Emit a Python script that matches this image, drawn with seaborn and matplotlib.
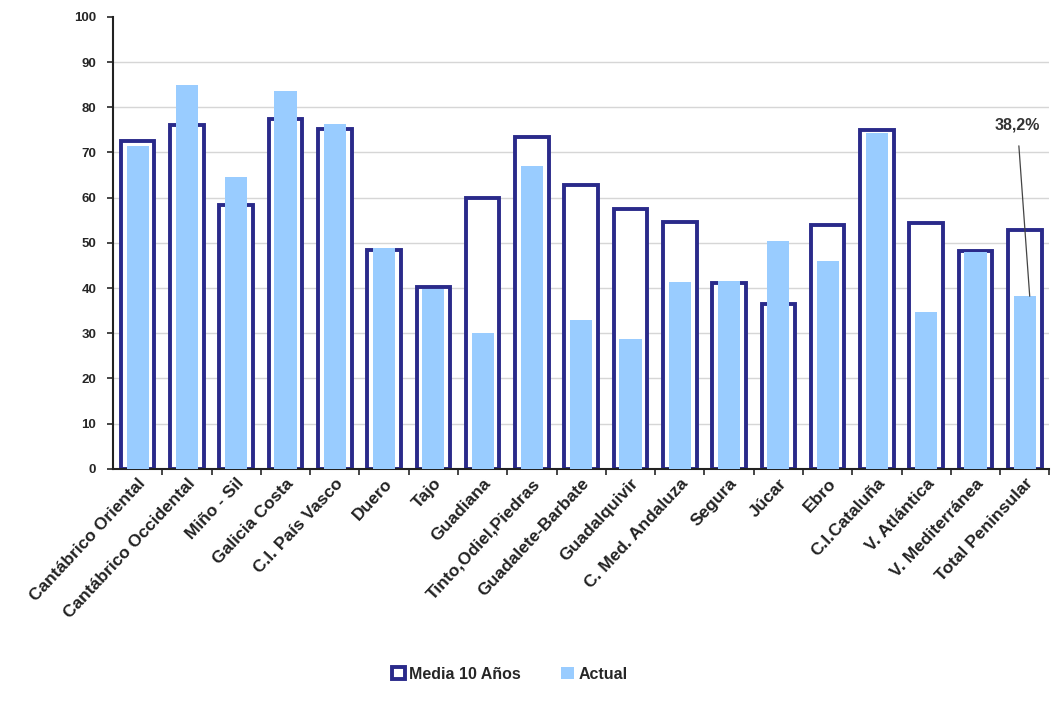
import numpy as np
import pandas as pd
import seaborn as sns
import matplotlib.pyplot as plt
from matplotlib.patches import Patch

cuencas = ['Cantábrico Oriental', 'Cantábrico Occidental', 'Miño - Sil', 'Galicia Costa',
           'C.I. País Vasco', 'Duero', 'Tajo', 'Guadiana', 'Tinto,Odiel,Piedras',
           'Guadalete-Barbate', 'Guadalquivir', 'C. Med. Andaluza', 'Segura', 'Júcar',
           'Ebro', 'C.I.Cataluña', 'V. Atlántica', 'V. Mediterránea', 'Total Peninsular']
media_10 = [72.5, 76.0, 58.3, 77.3, 75.3, 48.5, 40.3, 60.0, 73.5, 62.8,
            57.5, 54.7, 41.2, 36.5, 54.0, 75.0, 54.5, 48.3, 52.8]
actual = [71.5, 85.0, 64.5, 83.5, 76.3, 48.8, 39.8, 30.0, 67.0, 33.0,
          28.8, 41.3, 41.5, 50.4, 45.9, 74.3, 34.7, 48.0, 38.2]

navy = '#2A2A8A'
light = '#99CCFF'

df = pd.DataFrame({'cuenca': cuencas, 'media': media_10, 'actual': actual})

sns.set_style('white')
plt.rcParams['font.family'] = ['Liberation Sans', 'DejaVu Sans']
plt.rcParams['font.weight'] = 'bold'

fig = plt.figure(figsize=(10.51, 7.04), dpi=100)
ax = fig.add_axes([0.1075, 0.334, 0.891, 0.642])

sns.barplot(data=df, x='cuenca', y='media', color='white', edgecolor=navy,
            linewidth=2.8, width=0.68, saturation=1, ax=ax, zorder=2)
sns.barplot(data=df, x='cuenca', y='actual', color=light, linewidth=0,
            width=0.45, saturation=1, ax=ax, zorder=3)

ax.set_ylim(0, 100)
ax.set_xlim(-0.5, len(cuencas) - 0.5)
ax.set_yticks(np.arange(0, 101, 10))
ax.set_xlabel('')
ax.set_ylabel('')
for v in range(10, 100, 10):
    ax.axhline(v, color='#d6d6d6', linewidth=1, zorder=0)

for s in ['top', 'right']:
    ax.spines[s].set_visible(False)
ax.spines['left'].set_color('#222222')
ax.spines['bottom'].set_color('#222222')
ax.spines['left'].set_linewidth(1.5)
ax.spines['bottom'].set_linewidth(1.5)

ax.tick_params(axis='y', direction='out', length=4, width=1.2, labelsize=9.5, pad=8, left=True)
ax.set_xticks(np.arange(len(cuencas)))
ax.set_xticklabels(cuencas, rotation=47, ha='right', va='top', rotation_mode='anchor',
                   fontsize=12.5, fontweight='bold', color='#222222')
ax.tick_params(axis='x', length=0, pad=5)
ax.set_xticks(np.arange(len(cuencas)) + 0.5, minor=True)
ax.tick_params(axis='x', which='minor', direction='out', length=4, width=1.2, bottom=True)
for lab in ax.get_yticklabels():
    lab.set_fontweight('bold')

ax.annotate('38,2%', xy=(18.1, actual[-1]), xytext=(17.85, 76),
            ha='center', va='center', fontsize=11.5, fontweight='bold', color='#333333',
            arrowprops=dict(arrowstyle='-', color='#444444', linewidth=0.9, shrinkA=7, shrinkB=0),
            zorder=5)

handles = [Patch(facecolor='white', edgecolor=navy, linewidth=2.8, label='Media 10 Años'),
           Patch(facecolor=light, edgecolor='none', label='Actual')]
fig.legend(handles=handles, loc='center', bbox_to_anchor=(0.485, 0.042), ncol=2, frameon=False,
           prop={'weight': 'bold', 'size': 11.5}, handlelength=0.8, handleheight=0.8,
           handletextpad=0.3, columnspacing=2.5)

fig.savefig('out.png', dpi=100)
